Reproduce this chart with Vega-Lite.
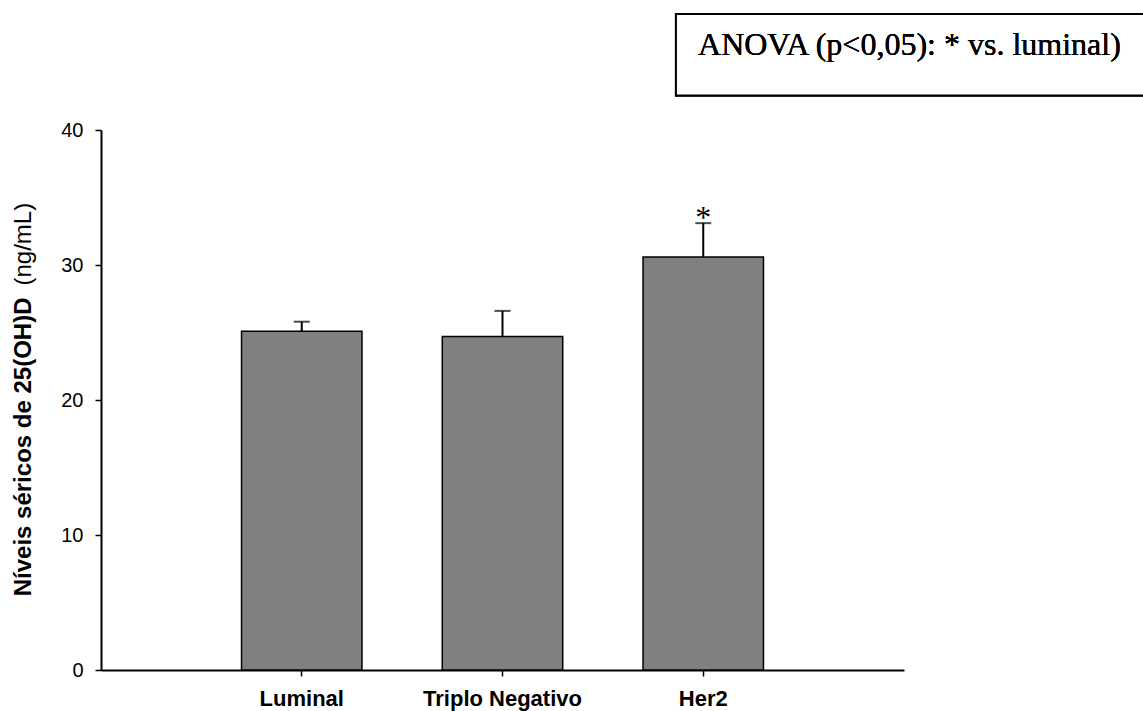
{
  "$schema": "https://vega.github.io/schema/vega-lite/v6.json",
  "autosize": "none",
  "width": 803,
  "height": 540,
  "padding": {"left": 101, "top": 130, "right": 239, "bottom": 41},
  "background": "white",
  "config": {
    "view": {"stroke": null},
    "font": "Liberation Sans",
    "axis": {"grid": false}
  },
  "data": {
    "values": [
      {"Group": "Luminal", "mean": 25.1, "upper": 25.8, "sig": ""},
      {"Group": "Triplo Negativo", "mean": 24.7, "upper": 26.6, "sig": ""},
      {"Group": "Her2", "mean": 30.6, "upper": 33.1, "sig": "*"}
    ]
  },
  "resolve": {"scale": {"x": "independent"}, "axis": {"y": "independent"}},
  "layer": [
    {
      "layer": [
        {
          "mark": {"type": "bar", "fill": "#808080", "stroke": "#000000", "strokeWidth": 1.5},
          "encoding": {
            "x": {
              "field": "Group", "type": "nominal", "sort": null,
              "scale": {"paddingInner": 0.4, "paddingOuter": 0.7},
              "axis": {
                "title": null, "labelAngle": 0, "labelFont": "Liberation Sans", "labelFontSize": 22,
                "labelFontWeight": "bold", "labelColor": "#000000", "labelPadding": 12,
                "domainColor": "#000000", "domainWidth": 2, "tickColor": "#000000",
                "tickSize": 6, "tickWidth": 1.5
              }
            },
            "y": {
              "field": "mean", "type": "quantitative",
              "scale": {"domain": [0, 40], "nice": false},
              "axis": {
                "title": "Níveis séricos de 25(OH)D", "titleFont": "Liberation Sans", "titleFontSize": 24,
                "titleFontWeight": "bold", "titleColor": "#000000", "titleAngle": 270,
                "titleAlign": "right", "titleBaseline": "alphabetic", "titleX": -71, "titleY": 167,
                "values": [0, 10, 20, 30, 40], "labelFont": "Liberation Sans", "labelFontSize": 20,
                "labelColor": "#000000", "labelPadding": 12, "domainColor": "#000000",
                "domainWidth": 2, "tickColor": "#000000", "tickSize": 6, "tickWidth": 1.5
              }
            }
          }
        },
        {
          "mark": {"type": "tick", "orient": "horizontal", "color": "#000000", "size": 16, "thickness": 2},
          "encoding": {
            "x": {"field": "Group", "type": "nominal", "sort": null},
            "y": {"field": "upper", "type": "quantitative"}
          }
        },
        {
          "mark": {"type": "text", "font": "Liberation Serif", "fontSize": 32, "color": "#000000", "baseline": "alphabetic", "dy": 5},
          "encoding": {
            "x": {"field": "Group", "type": "nominal", "sort": null},
            "y": {"field": "upper", "type": "quantitative"},
            "text": {"field": "sig"}
          }
        }
      ]
    },
    {
      "mark": {"type": "rule", "color": "#000000", "strokeWidth": 2},
      "encoding": {
        "x": {"field": "Group", "type": "nominal", "sort": null,
              "scale": {"paddingInner": 0.4, "paddingOuter": 0.7}, "axis": null},
        "y": {
          "field": "mean", "type": "quantitative",
          "axis": {
            "orient": "left", "title": "(ng/mL)", "titleFont": "Liberation Sans", "titleFontSize": 24,
            "titleFontWeight": "normal", "titleColor": "#000000", "titleAngle": 270,
            "titleAlign": "left", "titleBaseline": "alphabetic", "titleX": -71, "titleY": 155,
            "domain": false, "ticks": false, "labels": false
          }
        },
        "y2": {"field": "upper"}
      }
    },
    {
      "layer": [
        {
          "mark": {"type": "rect", "fill": "white", "stroke": "#000000", "strokeWidth": 2},
          "encoding": {
            "x": {"datum": 2.864, "type": "quantitative", "scale": {"domain": [0, 4]}, "axis": null},
            "x2": {"datum": 5.3},
            "y": {"datum": 48.6, "type": "quantitative", "axis": null},
            "y2": {"datum": 42.55}
          }
        },
        {
          "mark": {"type": "text", "font": "Liberation Serif", "fontSize": 32, "color": "#000000", "align": "left", "baseline": "alphabetic"},
          "encoding": {
            "x": {"datum": 2.974, "type": "quantitative", "scale": {"domain": [0, 4]}, "axis": null},
            "y": {"datum": 45.55, "type": "quantitative", "axis": null},
            "text": {"value": "ANOVA (p<0,05): * vs. luminal)"}
          }
        }
      ]
    }
  ]
}
